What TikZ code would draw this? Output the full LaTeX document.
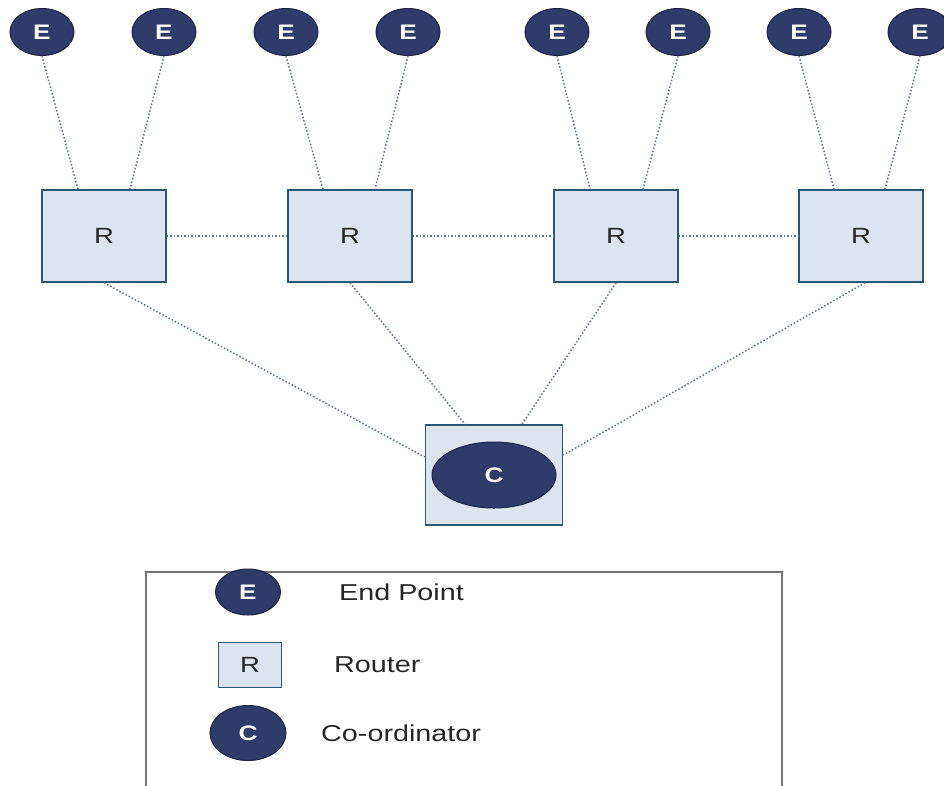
\documentclass[tikz,border=0pt]{standalone}
\usepackage{fontspec}
\usepackage{graphicx}
\setmainfont{Liberation Sans}
\usetikzlibrary{shapes.geometric}

\definecolor{navy}{HTML}{2F3C69}
\definecolor{navyline}{HTML}{1B2447}
\definecolor{routerfill}{HTML}{DCE4F0}
\definecolor{routerline}{HTML}{2C5873}
\definecolor{linkcol}{HTML}{5C7890}

\newcommand{\widetxt}[1]{\scalebox{1.25}[1]{#1}}

\tikzset{
  endpt/.style={ellipse, fill=navy, draw=navyline, line width=1pt, text=white, inner sep=0, minimum width=64, minimum height=47, font=\fontsize{21}{21}\selectfont\bfseries},
  router/.style={rectangle, fill=routerfill, draw=routerline, line width=1.6pt, inner sep=0, minimum width=124, minimum height=92, text=black!85, font=\fontsize{22}{22}\selectfont},
  link/.style={draw=linkcol, line width=1.5pt, dotted},
  legendtxt/.style={anchor=west, inner sep=0, font=\fontsize{23}{23}\selectfont, text=black!85}
}

\begin{document}
\begin{tikzpicture}[x=1pt, y=-1pt]
\useasboundingbox (0,0) rectangle (944,785);

% end points
\node[endpt] (e1) at (42, 32) {\widetxt{E}};
\node[endpt] (e2) at (164, 32) {\widetxt{E}};
\node[endpt] (e3) at (286, 32) {\widetxt{E}};
\node[endpt] (e4) at (408, 32) {\widetxt{E}};
\node[endpt] (e5) at (557, 32) {\widetxt{E}};
\node[endpt] (e6) at (678, 32) {\widetxt{E}};
\node[endpt] (e7) at (799, 32) {\widetxt{E}};
\node[endpt] (e8) at (920, 32) {\widetxt{E}};

% routers
\node[router] (r1) at (104, 236) {\widetxt{R}};
\node[router] (r2) at (350, 236) {\widetxt{R}};
\node[router] (r3) at (616, 236) {\widetxt{R}};
\node[router] (r4) at (861, 236) {\widetxt{R}};

% coordinator
\node[router, minimum width=137, minimum height=100] (cbox) at (494, 475) {};
\node[endpt, minimum width=124, minimum height=66] (c) at (494, 475) {\widetxt{C}};

% links
\draw[link] (e1.south) -- ([xshift=-26pt]r1.north);
\draw[link] (e2.south) -- ([xshift=26pt]r1.north);
\draw[link] (e3.south) -- ([xshift=-27pt]r2.north);
\draw[link] (e4.south) -- ([xshift=25pt]r2.north);
\draw[link] (e5.south) -- ([xshift=-26pt]r3.north);
\draw[link] (e6.south) -- ([xshift=27pt]r3.north);
\draw[link] (e7.south) -- ([xshift=-27pt]r4.north);
\draw[link] (e8.south) -- ([xshift=24pt]r4.north);
\draw[link] (r1) -- (r2);
\draw[link] (r2) -- (r3);
\draw[link] (r3) -- (r4);
\draw[link] (r1.south) -- ([yshift=18pt]cbox.west);
\draw[link] (r2.south) -- ([xshift=-29pt]cbox.north);
\draw[link] (r3.south) -- ([xshift=28pt]cbox.north);
\draw[link] ([xshift=4pt]r4.south) -- ([yshift=20pt]cbox.east);

% legend
\draw[draw=black!55, line width=1.6pt] (146, 786) -- (146, 572) -- (782, 572) -- (782, 786);
\node[endpt, minimum width=65, minimum height=46] (lege) at (248, 592) {\widetxt{E}};
\node[router, minimum width=63, minimum height=45, line width=1.4pt] (legr) at (250, 665) {\widetxt{R}};
\node[endpt, minimum width=76, minimum height=55] (legc) at (248, 733) {\widetxt{C}};
\node[legendtxt] (lege-t) at (339, 592) {\widetxt{End Point}};
\node[legendtxt] (legr-t) at (334, 665) {\widetxt{Router}};
\node[legendtxt] (legc-t) at (321, 733) {\widetxt{Co-ordinator}};

\end{tikzpicture}
\end{document}
